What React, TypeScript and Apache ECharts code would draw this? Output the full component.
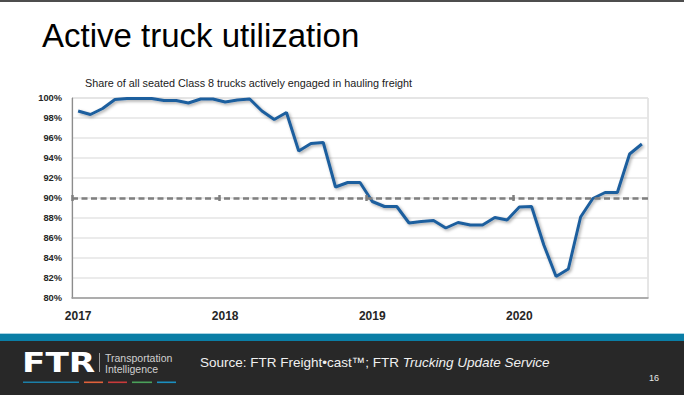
import React, { useEffect, useRef } from "react";
import * as echarts from "echarts";

const years = ["2017", "2018", "2019", "2020"];
const monthsPerYear = 12;
const monthCount = 47;
const categories: string[] = [];
for (let i = 0; i < monthCount; i++) {
  const y = years[Math.floor(i / monthsPerYear)];
  const m = (i % monthsPerYear) + 1;
  categories.push(`${y}-${m < 10 ? "0" + m : m}`);
}
// month boundaries (start of each month plus the end of the last one)
const monthBoundaries = [...categories, "2020-12"];

const utilization = [
  98.7, 98.35, 98.95, 99.85, 99.95, 99.95, 99.95, 99.75, 99.75, 99.5, 99.9, 99.9,
  99.6, 99.8, 99.9, 98.7, 97.85, 98.55, 94.7, 95.45, 95.55, 91.1, 91.55, 91.55,
  89.65, 89.15, 89.15, 87.5, 87.65, 87.75, 87.0, 87.55, 87.3, 87.3, 88.05, 87.8,
  89.1, 89.15, 85.3, 82.15, 82.9, 88.1, 89.95, 90.55, 90.55, 94.4, 95.4,
];

const referenceLevel = 90;
const yTicks = { min: 80, max: 100, interval: 2 };

const titleText = "Active truck utilization";
const subtitleText = "Share of all seated Class 8 trucks actively engaged in hauling freight";
const pageNumber = "16";

export default function App() {
  const ref = useRef<HTMLDivElement>(null);
  useEffect(() => {
    if (!ref.current) return;
    const chart = echarts.init(ref.current, null, { renderer: "svg" });
    const option: any = {
      animation: false,
      backgroundColor: "#ffffff",
      grid: {
        left: 72,
        right: 36,
        top: 98,
        bottom: 97,
        show: true,
        borderColor: "#cccccc",
        borderWidth: 1,
        backgroundColor: "transparent",
      },
      xAxis: [
        {
          type: "category",
          data: categories,
          boundaryGap: true,
          axisLine: { show: true, lineStyle: { color: "#9a9a9a", width: 1.5 } },
          axisTick: { show: false },
          splitLine: { show: false },
          axisLabel: {
            interval: 11,
            margin: 12,
            color: "#262626",
            fontFamily: "Liberation Sans, Arial, sans-serif",
            fontWeight: "bold",
            fontSize: 12,
            formatter: (v: string) => v.slice(0, 4),
          },
        },
        {
          type: "category",
          data: monthBoundaries,
          boundaryGap: false,
          position: "bottom",
          offset: -103,
          axisLine: { show: true, lineStyle: { color: "rgba(0,0,0,0)", width: 0 } },
          axisTick: {
            show: true,
            interval: (idx: number) => idx % 12 === 0,
            length: 6,
            lineStyle: { color: "#7f7f7f", width: 2.5 },
          },
          axisLabel: { show: false },
          splitLine: { show: false },
          z: 5,
        },
      ],
      yAxis: {
        type: "value",
        min: yTicks.min,
        max: yTicks.max,
        interval: yTicks.interval,
        axisLine: { show: true, lineStyle: { color: "#8c8c8c", width: 1.2 } },
        axisTick: { show: false },
        splitLine: { show: true, lineStyle: { color: "#e4e4e4", width: 1.6 } },
        axisLabel: {
          margin: 10,
          color: "#262626",
          fontFamily: "Liberation Sans, Arial, sans-serif",
          fontWeight: "bold",
          fontSize: 9.3,
          formatter: (v: number) => `${v}%`,
        },
      },
      series: [
        {
          type: "line",
          data: utilization,
          xAxisIndex: 0,
          symbol: "none",
          lineStyle: {
            color: "#1f5e9e",
            width: 3,
            shadowColor: "rgba(0,0,0,0.35)",
            shadowBlur: 3,
            shadowOffsetX: 1.5,
            shadowOffsetY: 1.5,
          },
          markLine: {
            silent: true,
            symbol: "none",
            label: { show: false },
            lineStyle: { color: "#7f7f7f", width: 2.5, type: [6, 3.5] },
            data: [{ yAxis: referenceLevel }],
          },
          z: 3,
        },
      ],
      graphic: [
        { type: "rect", shape: { x: 0, y: 0, width: 684, height: 2 }, style: { fill: "#4d4d4d" } },
        {
          type: "text",
          x: 42,
          y: 35,
          style: {
            text: titleText,
            font: "33px 'Liberation Sans', Arial, sans-serif",
            fill: "#000000",
            verticalAlign: "middle",
          },
        },
        {
          type: "text",
          x: 85,
          y: 83,
          style: {
            text: subtitleText,
            font: "10.8px 'Liberation Sans', Arial, sans-serif",
            fill: "#1a1a1a",
            verticalAlign: "middle",
          },
        },
        { type: "rect", shape: { x: 0, y: 333, width: 684, height: 1 }, style: { fill: "#a8d3e3" } },
        { type: "rect", shape: { x: 0, y: 334, width: 684, height: 7 }, style: { fill: "#0a7ea6" } },
        { type: "rect", shape: { x: 0, y: 341, width: 684, height: 54 }, style: { fill: "#282828" } },
        {
          type: "text",
          x: 22,
          y: 363,
          scaleX: 1.32,
          style: {
            text: "FTR",
            font: "bold 26px 'DejaVu Sans', sans-serif",
            fill: "#ffffff",
            verticalAlign: "middle",
          },
        },
        { type: "rect", shape: { x: 99, y: 353, width: 0.8, height: 19 }, style: { fill: "#bdbdbd" } },
        {
          type: "text",
          x: 105,
          y: 357.5,
          style: {
            text: "Transportation",
            font: "10.5px 'Liberation Sans Narrow', 'Liberation Sans', sans-serif",
            fill: "#d0d0d0",
            verticalAlign: "middle",
          },
        },
        {
          type: "text",
          x: 105,
          y: 369,
          style: {
            text: "Intelligence",
            font: "10.5px 'Liberation Sans Narrow', 'Liberation Sans', sans-serif",
            fill: "#d0d0d0",
            verticalAlign: "middle",
          },
        },
        { type: "rect", shape: { x: 23, y: 381.5, width: 56, height: 1.6 }, style: { fill: "#1b7fa8" } },
        { type: "rect", shape: { x: 84, y: 381.5, width: 19, height: 1.6 }, style: { fill: "#e0613b" } },
        { type: "rect", shape: { x: 108, y: 381.5, width: 19, height: 1.6 }, style: { fill: "#c93a3a" } },
        { type: "rect", shape: { x: 132, y: 381.5, width: 20, height: 1.6 }, style: { fill: "#4aa15a" } },
        { type: "rect", shape: { x: 157, y: 381.5, width: 19, height: 1.6 }, style: { fill: "#1b8fc0" } },
        {
          type: "text",
          x: 200,
          y: 362.5,
          style: {
            text: "{a|Source: FTR Freight•cast™; FTR }{b|Trucking Update Service}",
            verticalAlign: "middle",
            rich: {
              a: { font: "13.5px 'Liberation Sans', Arial, sans-serif", fill: "#f0f0f0" },
              b: { font: "italic 13.5px 'Liberation Sans', Arial, sans-serif", fill: "#f0f0f0" },
            },
          },
        },
        {
          type: "text",
          x: 649,
          y: 378,
          style: {
            text: pageNumber,
            font: "9px 'Liberation Sans', Arial, sans-serif",
            fill: "#e8e8e8",
            verticalAlign: "middle",
          },
        },
      ],
    };
    chart.setOption(option);
    return () => chart.dispose();
  }, []);
  return (
    <div
      ref={ref}
      style={{ position: "fixed", left: 0, top: 0, width: 684, height: 395 }}
    />
  );
}
